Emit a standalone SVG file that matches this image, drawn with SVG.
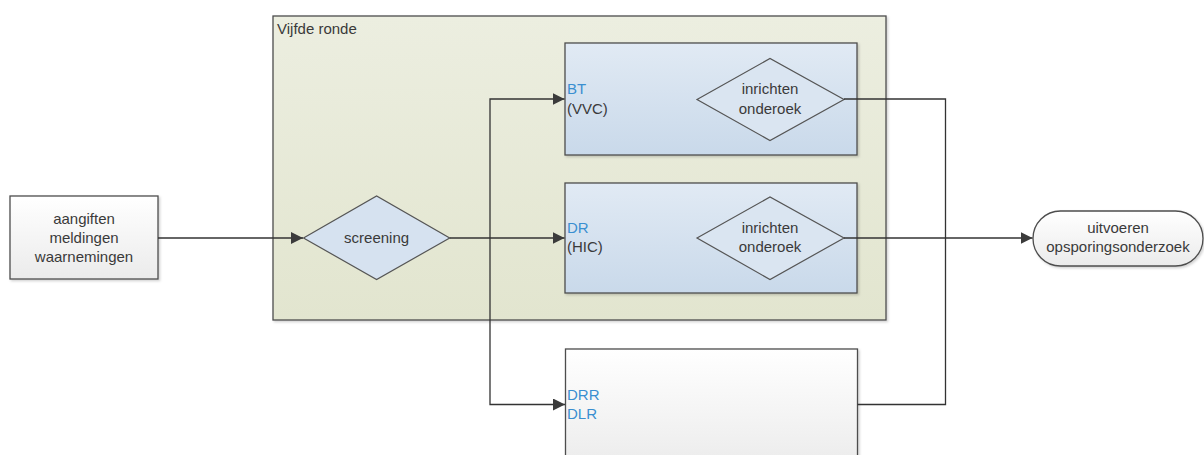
<svg xmlns="http://www.w3.org/2000/svg" width="1204" height="455" viewBox="0 0 1204 455">
<defs>
<linearGradient id="gOlive" x1="0" y1="0" x2="0" y2="1"><stop offset="0" stop-color="#eceee0"/><stop offset="1" stop-color="#e2e5cf"/></linearGradient>
<linearGradient id="gBlue" x1="0" y1="0" x2="0" y2="1"><stop offset="0" stop-color="#e1eaf4"/><stop offset="1" stop-color="#c9d9ea"/></linearGradient>
<linearGradient id="gGray" x1="0" y1="0" x2="0" y2="1"><stop offset="0" stop-color="#ffffff"/><stop offset="1" stop-color="#ebebeb"/></linearGradient>
<filter id="sh" x="-5%" y="-5%" width="110%" height="115%"><feDropShadow dx="1.5" dy="1.5" stdDeviation="1.2" flood-color="#000" flood-opacity="0.18"/></filter>
<marker id="arr" viewBox="0 0 10 10" refX="10" refY="5" markerWidth="12" markerHeight="12" markerUnits="userSpaceOnUse" orient="auto"><path d="M0,0 L10,5 L0,10 z" fill="#3b3b3b"/></marker>
</defs>
<style>
.box{stroke:#4d4d4d;stroke-width:1.3}
.dia{fill:#d6e2f0;stroke:#555;stroke-width:1.2}
.dia2{fill:#dae5f1;stroke:#555;stroke-width:1.2}
.t{font-family:"Liberation Sans",Arial,sans-serif;font-size:15px;fill:#3a3a3a}
.c{text-anchor:middle}
.blue{fill:#3a8fd0}
.ln{fill:none;stroke:#333;stroke-width:1.3}
</style>
<rect width="1204" height="455" fill="#ffffff"/>
<g id="vijfde-ronde">
<rect x="273" y="16" width="613" height="304" class="box" fill="url(#gOlive)" filter="url(#sh)"/>
<text x="277" y="34" class="t">Vijfde ronde</text>
</g>
<g id="bron">
<rect x="10" y="196" width="148" height="83" class="box" fill="url(#gGray)" filter="url(#sh)"/>
<text x="84" y="224" class="t c">aangiften</text>
<text x="84" y="243" class="t c">meldingen</text>
<text x="84" y="262" class="t c">waarnemingen</text>
</g>
<g id="screening">
<polygon points="303.5,238 376.6,196 449.7,238 376.6,279.5" class="dia"/>
<text x="376.6" y="243" class="t c">screening</text>
</g>
<g id="bt">
<rect x="565" y="43" width="292" height="112" class="box" fill="url(#gBlue)" filter="url(#sh)"/>
<text x="567" y="94" class="t blue">BT</text>
<text x="567" y="114" class="t">(VVC)</text>
<polygon points="697,99.5 770,58.5 844,99.5 770,140.5" class="dia2"/>
<text x="770" y="94" class="t c">inrichten</text>
<text x="770" y="114" class="t c">onderoek</text>
</g>
<g id="dr">
<rect x="565" y="183" width="292" height="110" class="box" fill="url(#gBlue)" filter="url(#sh)"/>
<text x="567" y="233" class="t blue">DR</text>
<text x="567" y="252" class="t">(HIC)</text>
<polygon points="697,238 770,197 844,238 770,279.5" class="dia2"/>
<text x="770" y="233" class="t c">inrichten</text>
<text x="770" y="252" class="t c">onderoek</text>
</g>
<g id="drr">
<rect x="565.5" y="349" width="292" height="120" class="box" fill="url(#gGray)" filter="url(#sh)"/>
<text x="567" y="400" class="t blue">DRR</text>
<text x="567" y="419" class="t blue">DLR</text>
</g>
<g id="uitvoeren">
<rect x="1033" y="211" width="170" height="55" rx="27.5" ry="27.5" class="box" fill="url(#gGray)" filter="url(#sh)"/>
<text x="1118" y="233" class="t c">uitvoeren</text>
<text x="1118" y="252" class="t c">opsporingsonderzoek</text>
</g>
<g id="connectors">
<path d="M158,238 H303" class="ln" marker-end="url(#arr)"/>
<path d="M449.7,238 H564.5" class="ln" marker-end="url(#arr)"/>
<path d="M490,238 V99 H564.5" class="ln" marker-end="url(#arr)"/>
<path d="M490,238 V404.5 H565" class="ln" marker-end="url(#arr)"/>
<path d="M844,99 H945.5 V404.5 H857.5" class="ln"/>
<path d="M844,238 H1032.5" class="ln" marker-end="url(#arr)"/>
</g>
</svg>
